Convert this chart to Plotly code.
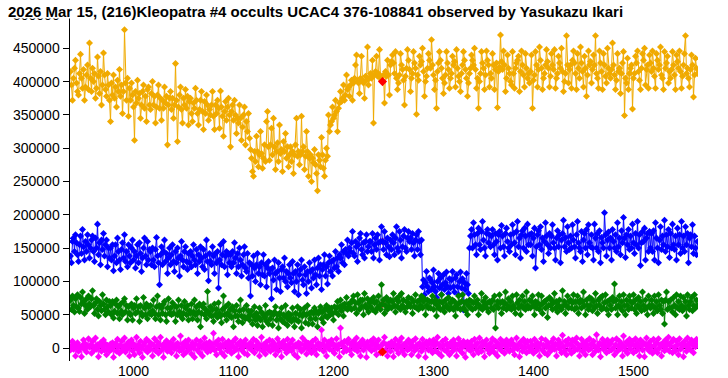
import plotly.graph_objects as go

# ---------------- data (values in thousands of counts) ----------------
frame_start = 937
title_text = "2026 Mar 15, (216)Kleopatra #4 occults UCAC4 376-108841 observed by Yasukazu Ikari"
x_ticks = [1000, 1100, 1200, 1300, 1400, 1500]
y_ticks = [0, 50000, 100000, 150000, 200000, 250000, 300000, 350000, 400000, 450000, 500000]

orange_k = [
    415, 395, 372, 405, 420, 432, 398, 385, 380, 412, 441, 405, 390, 418, 372, 392, 410, 425, 388, 458,
    405, 385, 420, 400, 412, 375, 390, 437, 408, 382, 415, 365, 395, 443, 410, 388, 378, 412, 395, 372,
    340, 398, 380, 410, 375, 392, 362, 402, 385, 418, 378, 395, 352, 385, 478, 398, 372, 405, 348, 390,
    372, 398, 380, 362, 312, 385, 368, 402, 375, 382, 345, 365, 385, 395, 360, 378, 340, 388, 392, 365,
    358, 382, 400, 365, 378, 338, 362, 380, 395, 360, 375, 342, 372, 360, 392, 368, 378, 305, 365, 375,
    385, 358, 375, 345, 365, 427, 372, 310, 362, 380, 392, 358, 338, 375, 365, 388, 360, 378, 335, 370,
    375, 352, 340, 368, 360, 390, 372, 352, 335, 358, 372, 385, 355, 328, 370, 352, 380, 365, 342, 358,
    350, 365, 385, 348, 328, 365, 352, 372, 360, 330, 386, 362, 348, 318, 355, 370, 342, 362, 375, 350,
    302, 355, 365, 342, 372, 350, 322, 345, 338, 365, 345, 312, 332, 350, 362, 305, 340, 325, 352, 315,
    298, 285, 265, 258, 295, 280, 318, 295, 272, 290, 325, 292, 270, 285, 305, 280, 340, 355, 302, 282,
    305, 330, 290, 345, 302, 268, 295, 308, 280, 335, 292, 298, 265, 310, 295, 322, 285, 302, 272, 290,
    302, 280, 295, 262, 290, 305, 345, 288, 295, 275, 290, 348, 295, 302, 268, 288, 325, 295, 258, 285,
    290, 250, 285, 278, 298, 275, 262, 236, 290, 282, 272, 316, 290, 270, 258, 282, 300, 288, 350, 325,
    335, 340, 362, 345, 350, 372, 355, 325, 360, 368, 385, 370, 375, 395, 372, 380, 410, 388, 392, 378,
    395, 402, 372, 398, 405, 425, 440, 400, 398, 382, 405, 438, 402, 398, 375, 408, 402, 452, 395, 405,
    412, 405, 432, 338, 410, 415, 438, 408, 412, 448, 405, 402, 400, 410, 368, 415, 408, 432, 410, 380,
    425, 430, 440, 428, 412, 445, 405, 388, 398, 410, 442, 425, 418, 402, 365, 408, 420, 448, 432, 418,
    385, 405, 412, 445, 428, 420, 351, 410, 402, 438, 425, 430, 450, 415, 378, 400, 408, 420, 442, 432,
    420, 463, 425, 410, 388, 402, 360, 415, 428, 445, 432, 420, 405, 382, 398, 410, 445, 428, 418, 390,
    405, 412, 438, 425, 430, 392, 448, 420, 408, 400, 385, 412, 425, 445, 432, 418, 405, 378, 398, 412,
    420, 440, 432, 425, 450, 418, 390, 405, 360, 400, 412, 445, 428, 420, 388, 410, 446, 432, 425, 392,
    412, 405, 442, 425, 388, 418, 428, 361, 415, 422, 470, 430, 418, 446, 425, 385, 405, 440, 420, 412,
    400, 395, 445, 412, 390, 420, 428, 432, 438, 385, 415, 446, 425, 410, 392, 442, 420, 405, 412, 398,
    415, 440, 360, 402, 410, 445, 425, 392, 418, 452, 432, 420, 388, 405, 412, 425, 448, 430, 420, 392,
    408, 442, 425, 418, 448, 390, 405, 412, 438, 428, 420, 450, 415, 385, 400, 412, 469, 425, 398, 418,
    425, 390, 432, 446, 428, 412, 388, 442, 420, 405, 452, 428, 415, 392, 438, 420, 378, 410, 446, 425,
    430, 398, 418, 440, 425, 469, 412, 405, 390, 446, 428, 415, 388, 442, 425, 408, 398, 450, 420, 412,
    405, 418, 458, 425, 410, 388, 402, 442, 415, 420, 382, 412, 428, 445, 349, 405, 398, 435, 388, 412,
    420, 425, 359, 405, 412, 438, 428, 446, 415, 402, 388, 420, 442, 432, 450, 395, 418, 425, 390, 440,
    428, 415, 446, 420, 408, 390, 442, 432, 418, 425, 452, 410, 405, 388, 445, 420, 428, 438, 398, 415,
    405, 418, 445, 425, 410, 388, 440, 430, 420, 446, 415, 390, 408, 425, 442, 469, 412, 420, 405, 392,
    418, 440, 425, 377, 410, 435, 420, 412,
]

blue_k = [
    138, 128, 160, 165, 145, 170, 158, 140, 130, 155, 168, 142, 178, 152, 132, 160, 145, 170, 155, 135,
    150, 162, 168, 145, 130, 165, 150, 186, 140, 158, 125, 162, 148, 172, 138, 155, 162, 122, 150, 135,
    150, 132, 155, 116, 138, 155, 128, 165, 145, 132, 118, 148, 158, 135, 170, 130, 145, 122, 155, 138,
    128, 150, 162, 132, 145, 120, 138, 155, 128, 158, 142, 115, 135, 150, 165, 138, 125, 160, 132, 148,
    145, 125, 150, 132, 122, 148, 166, 138, 128, 95, 140, 152, 125, 145, 162, 130, 142, 112, 135, 150,
    125, 140, 155, 130, 115, 145, 128, 150, 135, 108, 138, 160, 132, 122, 145, 152, 130, 118, 142, 128,
    145, 122, 138, 155, 132, 125, 148, 112, 140, 130, 152, 135, 122, 148, 118, 138, 162, 130, 101, 142,
    130, 125, 152, 138, 112, 142, 128, 145, 90, 132, 155, 125, 140, 160, 122, 138, 145, 110, 142, 128,
    140, 122, 145, 128, 158, 135, 112, 142, 122, 150, 132, 108, 125, 140, 152, 120, 115, 142, 105, 128,
    78, 125, 108, 138, 120, 100, 125, 142, 112, 122, 95, 128, 110, 140, 108, 125, 92, 120, 130, 112,
    118, 74, 120, 102, 132, 112, 88, 115, 128, 105, 85, 118, 122, 105, 135, 100, 115, 92, 112, 125,
    105, 98, 130, 112, 85, 115, 100, 125, 80, 110, 118, 132, 102, 95, 122, 110, 82, 115, 100, 128,
    115, 90, 118, 105, 132, 110, 95, 120, 135, 108, 125, 88, 118, 125, 140, 108, 122, 96, 128, 138,
    115, 130, 108, 132, 120, 145, 122, 135, 115, 140, 135, 155, 128, 145, 125, 148, 142, 162, 138, 150,
    145, 158, 175, 142, 138, 160, 152, 130, 155, 165, 172, 148, 140, 158, 135, 160, 170, 145, 152, 160,
    160, 145, 172, 135, 155, 165, 148, 170, 158, 132, 160, 182, 160, 148, 175, 158, 140, 165, 152, 137,
    162, 148, 170, 158, 140, 165, 182, 150, 145, 175, 162, 135, 152, 168, 178, 150, 145, 165, 175, 160,
    165, 148, 172, 158, 138, 162, 170, 148, 175, 160, 140, 162, 92, 102, 80, 98, 115, 92, 85, 105,
    102, 88, 98, 117, 92, 85, 76, 100, 112, 90, 105, 80, 95, 110, 88, 98, 114, 92, 82, 104,
    90, 102, 115, 92, 84, 105, 110, 92, 80, 100, 114, 90, 104, 57, 98, 88, 112, 95, 82, 150,
    168, 178, 150, 188, 170, 155, 140, 172, 180, 155, 148, 175, 190, 162, 150, 138, 172, 178, 158, 170,
    152, 168, 178, 155, 140, 172, 160, 132, 170, 175, 150, 184, 168, 152, 138, 172, 180, 160, 150, 145,
    170, 155, 185, 172, 158, 140, 175, 190, 152, 165, 135, 170, 176, 150, 180, 168, 145, 186, 155, 170,
    155, 172, 138, 165, 180, 120, 152, 170, 176, 155, 182, 148, 165, 130, 160, 188, 168, 155, 142, 172,
    150, 168, 185, 158, 150, 132, 165, 176, 152, 170, 128, 162, 172, 192, 152, 166, 145, 182, 158, 148,
    168, 150, 185, 162, 152, 135, 170, 190, 158, 150, 145, 175, 130, 162, 172, 150, 178, 140, 185, 158,
    152, 170, 150, 132, 186, 165, 150, 172, 145, 176, 128, 166, 158, 150, 203, 170, 138, 162, 174, 150,
    165, 132, 178, 160, 150, 170, 145, 188, 152, 165, 140, 176, 158, 196, 165, 136, 170, 155, 178, 148,
    168, 150, 186, 158, 142, 172, 155, 190, 150, 170, 124, 158, 175, 160, 180, 132, 165, 172, 145, 175,
    150, 172, 145, 176, 132, 188, 165, 150, 128, 162, 182, 148, 168, 155, 192, 145, 170, 152, 178, 136,
    172, 150, 186, 155, 148, 168, 132, 180, 155, 170, 142, 190, 150, 168, 145, 182, 155, 172, 128, 165,
    170, 152, 185, 142, 168, 150, 140, 160,
]

green_k = [
    72, 58, 78, 64, 54, 74, 62, 80, 60, 55, 76, 66, 84, 70, 52, 64, 74, 58, 78, 66,
    62, 74, 86, 64, 52, 68, 74, 58, 48, 70, 64, 56, 80, 66, 58, 50, 72, 62, 54, 70,
    64, 50, 70, 45, 55, 66, 72, 52, 62, 44, 66, 55, 50, 70, 74, 54, 64, 42, 62, 52,
    50, 66, 42, 60, 64, 52, 74, 54, 62, 40, 64, 52, 48, 76, 60, 50, 66, 44, 62, 52,
    64, 50, 56, 72, 52, 44, 62, 78, 50, 64, 42, 60, 52, 66, 70, 50, 40, 60, 74, 52,
    60, 50, 68, 52, 64, 40, 62, 50, 72, 54, 48, 64, 44, 52, 70, 60, 50, 64, 42, 56,
    52, 66, 44, 54, 72, 50, 62, 42, 54, 66, 32, 52, 62, 66, 50, 58, 44, 85, 54, 50,
    62, 48, 58, 40, 66, 50, 58, 46, 68, 52, 48, 38, 58, 78, 50, 62, 42, 52, 66, 48,
    58, 46, 62, 32, 56, 48, 64, 48, 40, 56, 72, 48, 38, 58, 46, 44, 64, 46, 56, 42,
    50, 56, 36, 48, 62, 42, 52, 34, 46, 60, 42, 54, 32, 50, 46, 64, 40, 52, 36, 54,
    44, 52, 34, 50, 54, 62, 42, 50, 30, 52, 44, 60, 40, 50, 38, 64, 46, 34, 52, 42,
    50, 40, 60, 44, 32, 52, 42, 62, 40, 50, 58, 30, 48, 52, 60, 38, 50, 64, 36, 52,
    44, 54, 36, 52, 60, 44, 54, 32, 52, 56, 62, 44, 54, 38, 58, 48, 64, 46, 56, 60,
    50, 60, 52, 42, 62, 54, 60, 70, 50, 62, 72, 56, 64, 48, 66, 60, 76, 58, 66, 60,
    68, 58, 72, 78, 60, 68, 52, 80, 68, 58, 72, 62, 72, 50, 82, 64, 60, 74, 54, 68,
    62, 72, 58, 76, 68, 54, 70, 60, 78, 64, 58, 95, 66, 72, 52, 64, 76, 58, 70, 62,
    72, 60, 70, 82, 64, 54, 74, 62, 70, 78, 58, 82, 64, 72, 60, 54, 70, 62, 76, 66,
    62, 74, 52, 70, 62, 80, 60, 70, 58, 72, 64, 78, 60, 70, 74, 50, 64, 72, 60, 70,
    60, 70, 78, 58, 68, 72, 48, 64, 60, 70, 58, 80, 68, 60, 54, 72, 64, 60, 76, 58,
    68, 60, 72, 58, 70, 48, 64, 60, 78, 68, 58, 70, 80, 60, 68, 56, 70, 50, 64, 72,
    60, 70, 58, 68, 78, 60, 68, 72, 50, 64, 60, 82, 58, 70, 64, 76, 60, 68, 54, 70,
    68, 60, 72, 58, 78, 30, 64, 70, 60, 80, 68, 52, 70, 60, 68, 84, 58, 64, 74, 60,
    70, 58, 78, 64, 60, 52, 80, 68, 60, 72, 50, 64, 78, 60, 70, 58, 84, 64, 60, 72,
    60, 70, 78, 64, 50, 70, 60, 68, 80, 58, 64, 78, 52, 68, 70, 60, 72, 46, 64, 76,
    64, 72, 58, 68, 82, 60, 70, 54, 64, 72, 60, 58, 86, 64, 70, 52, 64, 78, 60, 70,
    72, 60, 68, 80, 58, 70, 60, 78, 52, 68, 72, 60, 70, 84, 64, 50, 72, 64, 58, 76,
    64, 74, 56, 70, 60, 82, 64, 52, 72, 64, 76, 58, 78, 60, 68, 80, 58, 70, 50, 72,
    64, 58, 76, 70, 96, 60, 72, 50, 64, 78, 60, 70, 56, 80, 64, 50, 72, 64, 58, 78,
    70, 60, 68, 80, 58, 72, 52, 64, 76, 60, 70, 56, 84, 64, 58, 72, 60, 50, 78, 64,
    60, 72, 64, 52, 78, 60, 70, 56, 80, 64, 58, 72, 52, 70, 36, 72, 84, 58, 70, 60,
    72, 60, 54, 76, 64, 50, 80, 60, 70, 58, 78, 64, 56, 76, 60, 70, 48, 80, 64, 58,
    70, 76, 56, 64, 80, 60, 72, 64,
]

magenta_k = [
    -3, 4, 10, -2, 5, -12, 2, 8, -5, 3, 0, -13, 4, 12, -2, 6, -6, 3, 14, 1,
    4, -8, 10, 2, -3, 15, -2, 5, -13, 3, 8, -5, 2, 12, -3, 6, -10, 4, 0, -5,
    6, -2, 8, -14, 3, 7, -5, 13, 2, -8, 4, 10, -3, 2, 15, -6, 5, -1, 9, -12,
    3, 12, -4, 6, -10, 2, 16, -2, 5, -7, 10, 0, -14, 4, 8, -3, 13, -6, 2, 9,
    -2, 6, -12, 4, 14, -4, 1, 9, -8, 5, 16, -3, 3, -14, 7, 0, 11, -5, 4, -2,
    8, -7, 3, 13, -1, 5, -12, 7, 2, -4, 18, -3, 6, -10, 1, 10, -6, 4, 12, -2,
    3, -9, 8, 0, -14, 6, 12, -3, 4, -7, 10, 1, -12, 5, 15, -2, 7, -6, 2, 9,
    -4, 6, 1, 22, -3, 8, -10, 4, 12, -1, 5, -7, 13, 2, -12, 7, 3, -4, 10, -1,
    5, -8, 9, 2, -4, 14, -2, 6, -13, 4, 10, -3, 1, 8, -8, 12, 3, -10, 5, 0,
    8, -3, 4, 13, -7, 2, 10, -1, 6, -12, 3, 16, -4, 5, 0, -9, 9, 2, -3, 12,
    -5, 4, 10, -2, 6, -10, 1, 14, -4, 7, 3, -13, 5, 10, -1, 4, -7, 13, 2, -3,
    7, -4, 12, 1, -10, 5, 3, -14, 8, 0, 6, -5, 15, -2, 4, 10, -9, 2, 7, -3,
    5, -7, 10, 2, -3, 13, -10, 4, 7, -1, 3, 27, 6, -5, 12, 1, -12, 5, 9, -2,
    4, 12, -4, 6, -8, 2, 14, -1, 5, -13, 30, 7, 3, -6, 10, 0, -4, 8, 13, -3,
    6, -10, 3, 10, -2, 5, 15, -5, 1, 7, -12, 4, 12, -3, 6, 2, -14, 9, 3, -1,
    10, -4, 5, 14, -2, 7, -10, 3, 12, 0, -7, 4, -6, 8, 16, -3, 5, -12, 6, 2,
    -5, 9, 3, -13, 6, 13, -2, 4, -8, 10, 1, 15, -4, 5, -10, 7, 2, -3, 12, -1,
    6, -10, 10, 2, -4, 14, -1, 5, -12, 7, 3, -5, 13, 0, 6, -14, 9, 4, -3, 11,
    -2, 7, -7, 12, 3, -4, 8, 16, -8, 5, 1, -12, 10, 4, -3, 13, -5, 6, 2, -10,
    8, 3, -5, 12, -1, 6, -12, 4, 14, -3, 7, 0, -8, 10, 5, -14, 3, 9, -2, 6,
    -4, 10, 2, -10, 13, 5, -3, 7, -7, 15, 1, -5, 9, 4, -13, 6, 12, -2, 3, -8,
    7, -3, 14, 1, -7, 10, 4, -12, 6, 0, 13, -4, 5, 9, -8, 3, 12, -2, 7, -5,
    4, 12, -3, 6, -10, 2, 15, -1, 5, -13, 9, 3, -5, 13, 0, 7, -7, 10, 2, -4,
    10, -2, 5, -8, 13, 3, -4, 8, 1, -12, 6, 14, -3, 4, -7, 12, 2, -10, 7, 0,
    -5, 9, 3, 14, -2, 6, -12, 4, 12, -1, 7, -7, 19, 2, -4, 10, -10, 5, 13, -3,
    6, -8, 12, 2, -4, 9, 15, -2, 5, -12, 3, 13, -5, 7, 0, -10, 10, 4, -3, 14,
    -1, 6, -10, 10, 3, -5, 20, 2, -3, 7, -13, 5, 13, -2, 8, 1, -7, 12, 4, -4,
    7, -3, 12, 0, -10, 5, 14, -5, 3, 10, -1, 6, -12, 18, 2, -4, 9, -8, 5, 13,
    -2, 6, 10, -7, 3, 14, -4, 7, 1, -12, 12, 4, -3, 8, -13, 5, 15, -1, 6, -5,
    10, 2, -8, 13, 4, -3, 8, -7, 14, 0, 5, -12, 7, 3, -4, 12, -2, 6, 16, -5,
    3, 9, -7, 13, 1, -4, 10, 5, -10, 14, -2, 6, 3, -13, 10, 4, -5, 15, 0, 7,
    -3, 12, 5, -7, 9, 2, 13, 4,
]

# highlighted (red) frame and its values: orange, blue, green, magenta
red_frame = 1249
red_k = [400, 160, 66, -6]

# ---------------- figure ----------------
SCALE = 1000


def frames_for(vals):
    return [frame_start + i for i in range(len(vals))]


def series(vals, color):
    return go.Scatter(
        x=frames_for(vals), y=[v * SCALE for v in vals], mode="lines+markers",
        line=dict(color=color, width=1),
        marker=dict(symbol="diamond", size=5.4, color=color, line=dict(width=0)),
        hoverinfo="skip", showlegend=False, cliponaxis=True,
    )


def red_pts(vals, size):
    return go.Scatter(
        x=[red_frame] * len(vals), y=[v * SCALE for v in vals], mode="markers",
        marker=dict(symbol="diamond", size=size, color="#FF0000", line=dict(width=0)),
        hoverinfo="skip", showlegend=False,
    )


fig = go.Figure()
fig.add_trace(series(orange_k, "#F0AA00"))
fig.add_trace(red_pts(red_k[1:3], 6))
fig.add_trace(series(blue_k, "#0000FF"))
fig.add_trace(series(green_k, "#008000"))
fig.add_trace(series(magenta_k, "#FF00FF"))
fig.add_trace(red_pts([red_k[0], red_k[3]], 7))

W, H = 728, 378
ml, mr, mt, mb = 70, 30, 15, 17
ph = H - mt - mb
pw = W - ml - mr

fig.update_layout(
    width=W, height=H,
    margin=dict(l=ml, r=mr, t=mt, b=mb, pad=0, autoexpand=False),
    paper_bgcolor="white", plot_bgcolor="white",
    showlegend=False,
    font=dict(family="Arial, Liberation Sans, sans-serif", size=14, color="black"),
    title=dict(
        text="<b>" + title_text + "</b>",
        font=dict(family="Arial, Liberation Sans, sans-serif", size=15, color="black"),
        xref="container", yref="container", x=8 / W, xanchor="left",
        y=1 - 12 / H, yanchor="middle", automargin=False,
    ),
    xaxis=dict(
        range=[frame_start - 0.5, frame_start + len(orange_k) - 0.5],
        tickvals=x_ticks, ticktext=[str(t) for t in x_ticks],
        showgrid=False, zeroline=False, showline=False, ticks="",
        tickfont=dict(size=14), automargin=False,
    ),
    yaxis=dict(
        range=[-19500, 500000],
        tickvals=y_ticks, ticktext=[str(t) for t in y_ticks],
        showgrid=False, zeroline=True, zerolinecolor="black", zerolinewidth=1,
        showline=True, linecolor="black", linewidth=1.5,
        ticks="outside", ticklen=6, tickcolor="black", tickwidth=1,
        tickfont=dict(size=14), automargin=False,
    ),
    shapes=[dict(
        type="rect", xref="paper", yref="paper", layer="above",
        x0=-ml / pw - 0.01, x1=1 + mr / pw + 0.01,
        y0=(ph - (18.5 - mt)) / ph, y1=1 + mt / ph + 0.01,
        fillcolor="white", line=dict(width=0),
    )],
)

# remove the browser's default 8px body margin so the figure sits at the page origin
fig.write_html(
    "out.html",
    config={"displayModeBar": False, "staticPlot": True},
    post_script="document.body.style.margin='0';document.body.style.overflow='hidden';",
)
